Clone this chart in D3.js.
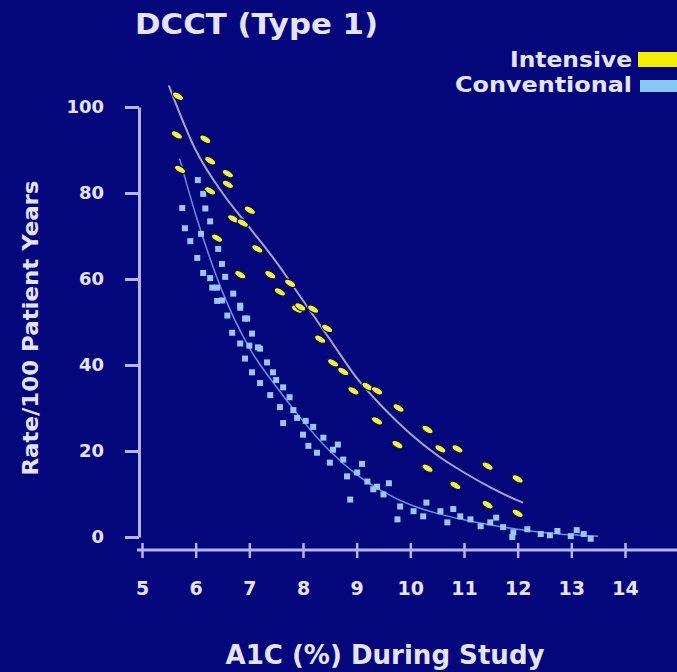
<!DOCTYPE html>
<html>
<head>
<meta charset="utf-8">
<script src="https://cdn.jsdelivr.net/npm/d3@7"></script>
<style>
  html, body { margin: 0; padding: 0; background: #04067c; }
  svg { display: block; }
  text { font-family: "DejaVu Sans", "Liberation Sans", Arial, sans-serif; font-weight: bold; fill: #e4e4ff; }
</style>
</head>
<body>
<div id="chart"></div>
<script>
// DCCT (Type 1): event rate vs. A1C during study, by treatment group

const title = "DCCT (Type 1)";
const xTitle = "A1C (%) During Study";
const yTitle = "Rate/100 Patient Years";
const seriesNames = ["Intensive", "Conventional"];

const xTicks = [5, 6, 7, 8, 9, 10, 11, 12, 13, 14];
const yTicks = [0, 20, 40, 60, 80, 100];

// Intensive group: [A1C %, rate per 100 patient years]
const intensivePoints = [
  [5.67, 102.5], [5.65, 93.5], [6.18, 92.5], [5.71, 85.5], [6.27, 87.5],
  [6.60, 84.5], [6.60, 82.0], [6.27, 80.5], [7.01, 76.0], [6.70, 74.0],
  [6.88, 73.0], [6.40, 69.5], [7.15, 67.0], [6.83, 61.0], [7.39, 61.0],
  [7.76, 59.0], [7.57, 57.0], [7.89, 53.0], [8.19, 53.0], [7.95, 53.5],
  [8.32, 46.0], [8.45, 48.5], [8.56, 40.5], [8.75, 38.5], [8.94, 34.0],
  [9.20, 35.0], [9.38, 27.0], [9.38, 34.0], [9.78, 30.0], [10.32, 25.0],
  [9.76, 21.5], [10.56, 20.5], [10.88, 20.5], [10.32, 16.0], [11.44, 16.5],
  [12.00, 13.5], [10.84, 12.0], [11.44, 7.5], [12.00, 5.5]
];

// Conventional group: [A1C %, rate per 100 patient years]
const conventionalPoints = [
  [6.04, 83.0], [6.14, 79.8], [6.18, 76.4], [6.27, 73.4], [6.42, 67.0],
  [6.49, 63.5], [6.70, 56.6], [6.92, 50.8], [7.05, 47.3], [7.20, 43.8],
  [5.80, 71.8], [5.90, 68.8], [6.03, 64.9], [6.31, 58.0], [6.14, 61.4],
  [6.40, 58.0], [6.49, 55.0], [6.83, 53.3], [6.27, 60.2], [5.75, 76.5],
  [6.40, 54.9], [6.83, 53.8], [6.59, 51.5], [6.96, 50.8], [6.68, 47.5],
  [6.83, 45.0], [7.16, 44.1], [6.92, 41.5], [7.33, 40.6], [7.44, 38.3],
  [7.05, 38.3], [7.20, 35.8], [7.63, 34.8], [7.39, 33.0], [7.57, 30.2],
  [7.82, 29.5], [7.89, 27.7], [7.63, 26.5], [8.19, 25.6], [8.38, 23.1],
  [8.00, 23.8], [8.10, 21.2], [8.26, 19.6], [8.56, 20.3], [8.75, 18.0],
  [8.50, 17.3], [9.01, 15.0], [8.82, 14.1], [9.20, 12.9], [9.31, 11.1],
  [8.88, 8.7], [9.38, 11.7], [9.50, 9.9], [9.81, 7.1], [9.76, 4.1],
  [10.06, 6.0], [10.24, 4.8], [10.56, 6.0], [10.69, 3.4], [10.93, 4.8],
  [11.12, 4.1], [11.31, 2.5], [11.49, 3.4], [11.73, 2.3], [11.92, 1.1],
  [12.18, 1.8], [12.43, 0.7], [12.74, 1.4], [12.99, 0.2], [13.23, 0.7],
  [13.36, -0.4], [12.60, 0.4], [11.90, 0.0], [13.10, 1.6],
  [6.10, 70.5], [6.55, 60.5], [7.00, 44.5], [7.50, 36.5], [7.75, 32.5],
  [8.05, 27.0], [8.65, 21.5], [9.10, 17.0], [9.60, 12.5], [10.30, 8.0],
  [10.80, 6.5], [11.60, 4.5]
];

// Fitted curves: [A1C %, rate]
const intensiveFit = [
  [5.5, 105], [6.0, 90], [6.5, 80], [7.0, 72], [7.5, 64], [8.0, 55],
  [8.5, 46], [9.0, 37], [9.5, 30], [10.0, 24], [10.5, 19], [11.0, 15],
  [11.5, 11.5], [12.0, 8.5], [12.1, 8]
];
const conventionalFit = [
  [5.7, 88], [6.0, 75], [6.5, 57], [7.0, 44], [7.5, 35], [8.0, 27],
  [8.5, 20], [9.0, 14.5], [9.5, 10.5], [10.0, 7.5], [10.5, 5.5], [11.0, 4],
  [11.5, 2.8], [12.0, 1.8], [12.5, 1.0], [13.0, 0.5], [13.5, 0.2]
];

const W = 677, H = 672;
const bg = "#04067c";
const axisColor = "#b4b4f4";
const textColor = "#e4e4ff";
const yellow = "#eeee58";
const lightBlue = "#98c8f8";
const fontStack = "'DejaVu Sans', 'Liberation Sans', Arial, sans-serif";

const svg = d3.select("#chart").append("svg")
  .attr("width", W).attr("height", H)
  .style("background", bg);

const x = d3.scaleLinear().domain([5, 14]).range([142, 625]);
const y = d3.scaleLinear().domain([0, 100]).range([537, 107]);

// Title
svg.append("text")
  .attr("x", 135).attr("y", 34)
  .attr("font-size", 29)
  .attr("textLength", 243).attr("lengthAdjust", "spacingAndGlyphs")
  .text(title);

// Legend
const legendSwatches = [
  { name: seriesNames[0], color: "#f2f000", ty: 67, rx: 638, ry: 52, rw: 39, rh: 15, tlen: 122 },
  { name: seriesNames[1], color: "#86c8f2", ty: 92, rx: 640, ry: 80, rw: 37, rh: 12, tlen: 177 }
];
legendSwatches.forEach(d => {
  svg.append("text")
    .attr("x", 632).attr("y", d.ty)
    .attr("text-anchor", "end")
    .attr("font-size", 21)
    .attr("textLength", d.tlen).attr("lengthAdjust", "spacingAndGlyphs")
    .text(d.name);
  svg.append("rect")
    .attr("x", d.rx).attr("y", d.ry)
    .attr("width", d.rw).attr("height", d.rh)
    .attr("fill", d.color);
});

// Y axis
const yAxis = svg.append("g")
  .attr("transform", "translate(139,0)")
  .call(d3.axisLeft(y).tickValues(yTicks).tickSize(14).tickSizeOuter(0).tickPadding(21));
yAxis.select(".domain").attr("stroke", axisColor).attr("stroke-width", 3);
yAxis.selectAll(".tick line").attr("stroke", axisColor).attr("stroke-width", 3);
yAxis.selectAll(".tick text")
  .attr("fill", textColor)
  .attr("font-size", 18)
  .attr("font-family", fontStack)
  .attr("font-weight", "bold");

// X axis
const xAxis = svg.append("g")
  .attr("transform", "translate(0,550)")
  .call(d3.axisBottom(x).tickValues(xTicks).tickSize(8).tickSizeOuter(0).tickPadding(0));
xAxis.select(".domain")
  .attr("d", `M137,0H${W}`)
  .attr("stroke", axisColor).attr("stroke-width", 3);
xAxis.selectAll(".tick line")
  .attr("y1", -7).attr("y2", 8)
  .attr("stroke", axisColor).attr("stroke-width", 2.5);
xAxis.selectAll(".tick text")
  .attr("y", 45).attr("dy", 0)
  .attr("fill", textColor)
  .attr("font-size", 19)
  .attr("font-family", fontStack)
  .attr("font-weight", "bold");

// Axis titles
svg.append("text")
  .attr("transform", "translate(38,328) rotate(-90)")
  .attr("text-anchor", "middle")
  .attr("font-size", 22)
  .attr("textLength", 295).attr("lengthAdjust", "spacingAndGlyphs")
  .text(yTitle);

svg.append("text")
  .attr("x", 385).attr("y", 664)
  .attr("text-anchor", "middle")
  .attr("font-size", 26)
  .attr("textLength", 319).attr("lengthAdjust", "spacingAndGlyphs")
  .text(xTitle);

const line = d3.line().x(d => x(d[0])).y(d => y(d[1])).curve(d3.curveMonotoneX);

// Conventional: fitted curve then points
svg.append("path")
  .datum(conventionalFit)
  .attr("d", line)
  .attr("fill", "none")
  .attr("stroke", "#6c8ce8")
  .attr("stroke-width", 1.5);

svg.append("g").selectAll("rect")
  .data(conventionalPoints)
  .join("rect")
  .attr("x", d => x(d[0]) - 3)
  .attr("y", d => y(d[1]) - 3)
  .attr("width", 6).attr("height", 6)
  .attr("fill", lightBlue);

// Intensive: fitted curve then dash markers
svg.append("path")
  .datum(intensiveFit)
  .attr("d", line)
  .attr("fill", "none")
  .attr("stroke", "#a4a4c8")
  .attr("stroke-width", 2);

svg.append("g").selectAll("ellipse")
  .data(intensivePoints)
  .join("ellipse")
  .attr("transform", d => `translate(${x(d[0])},${y(d[1])}) rotate(32)`)
  .attr("rx", 6.2).attr("ry", 3.2)
  .attr("fill", yellow)
  .attr("stroke", "#10102a")
  .attr("stroke-width", 1.2);
</script>
</body>
</html>
